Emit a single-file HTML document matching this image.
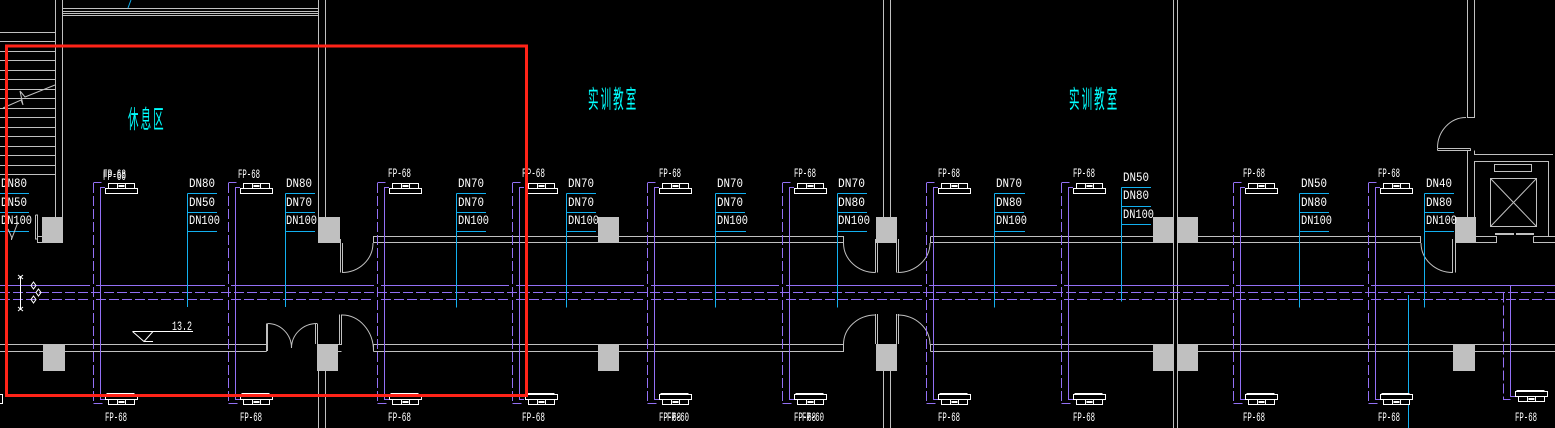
<!DOCTYPE html>
<html><head><meta charset="utf-8"><style>
html,body{margin:0;padding:0;background:#000;width:1555px;height:428px;overflow:hidden}
svg{display:block}
.w{stroke:#c0c0c0;stroke-width:1;fill:none}
.p{stroke:#9370f5;stroke-width:1;fill:none}
.d{stroke:#9370f5;stroke-width:1;fill:none;stroke-dasharray:10 3}
.h{stroke:#9370f5;stroke-width:1;fill:none;stroke-dasharray:10 3}
.c{stroke:#12b0f0;stroke-width:1;fill:none}
.u{stroke:#fff;stroke-width:1;fill:#000}
.col{fill:#c0c0c0}
text{font-family:"Liberation Mono","Noto Sans CJK SC",monospace;fill:#fff;font-size:13px}
.cn{font-family:"Liberation Sans","Noto Sans CJK SC",sans-serif;fill:#00ffff;font-size:25px;letter-spacing:5px}
</style></head><body>
<svg width="1555" height="428" viewBox="0 0 1555 428" xmlns="http://www.w3.org/2000/svg">
<defs>
<g id="ut"><rect class="u" x="-16" y="188.5" width="32" height="5"/><rect class="u" x="-13" y="183.5" width="26" height="5"/><path d="M-4 184v4M4 184v4" stroke="#fff"/><rect x="-3" y="185" width="6" height="2" fill="#fff"/></g>
<g id="ub"><path d="M-15 393.5H13" stroke="#fff"/><rect class="u" x="-16" y="394.5" width="32" height="5"/><rect class="u" x="-13" y="399.5" width="26" height="5"/><path d="M-4 400v4M4 400v4" stroke="#fff"/><rect x="-3" y="401" width="6" height="2" fill="#fff"/></g>
<g id="pp"><path class="d" d="M0 182.5H8"/><path class="d" d="M0 183V403.5"/><path class="d" d="M0 403.5H9"/><path class="p" d="M11.5 187.5H7V399.5H11.5"/></g>
</defs>
<rect width="1555" height="428" fill="#000"/>

<!-- stairs -->
<g class="w" shape-rendering="crispEdges">
<path d="M0 32.5H55M0 41.5H55M0 51.5H55M0 60.5H55M0 70.5H55M0 79.5H55M0 89.5H55M0 98.5H55M0 108.5H55M0 117.5H55M0 127.5H55M0 136.5H55M0 146.5H55M0 155.5H55M0 165.5H55M0 174.5H55"/>
<path d="M55.5 0V217M62.5 0V217M318.5 0V217M325.5 0V217M62 8.5H318M62 11.5H318M62 13.5H318M62 15.5H318"/>
<path d="M318.5 371V428M325.5 371V428M883.5 0V217M890.5 0V217M883.5 371V428M890.5 371V428M1173.5 0V428M1177.5 0V428"/>
<path d="M1467.5 0V117.5H1474.5V0M1437.5 148.5H1470.5M1437.5 150.5H1470.5V148.5M1437.5 148.5V150.5M1467.5 151V217M1474.5 150.5V154.5H1553"/>
<path d="M1474.5 217V161.5H1548.5V236.5M1490.5 178.5H1536.5V226.5H1490.5ZM1494.5 164.5H1531.5V171.5H1494.5Z"/>
<path d="M1476 236.5H1496.5V242.5H1476M1533.5 236.5H1555M1533.5 236.5V242.5H1555M1495 233.5H1514M1516 233.5H1534M1495 234.5H1514M1516 234.5H1534"/>
<!-- upper wall -->
<path d="M35.5 215H37.5V242.5H42M35.5 215V239H37M37.5 236.5H42M373 236.5H598M373 242.5H598M373.5 236.5V242.5M619 236.5H843.5V242.5H619M930.5 236.5H1153M930.5 242.5H1153M930.5 236.5V243M1198 236.5H1420.5V242.5H1198"/>
<!-- lower wall -->
<path d="M0 344.5H43M0 351.5H43M65 344.5H266.5M65 351.5H266.5M266.5 323.5V351.5M267.5 323.5V351M315.5 323.5V344M317.5 323.5V344M338 344.5H341.5V314.5M338 351.5H341.5M339.5 314.5V344M373.5 344.5V351.5M373.5 344.5H598M373.5 351.5H598M619 344.5H843.5V351.5H619M875.5 314V344M877.5 314V344M896.5 314V344M898.5 314V344M930.5 344.5V351.5M930.5 344.5H1153M930.5 351.5H1153M1198 344.5H1453M1198 351.5H1453M1475 344.5H1555M1475 351.5H1555"/>
<!-- upper jambs -->
<path d="M340.5 239V272.5M342.5 243V272.5M875.5 239V272.5M877.5 239V272.5M896.5 239V272.5M898.5 239V272.5M1452.5 239V272.5M1455.5 239V272.5"/>
</g>
<g class="w">
<path d="M1490.5 178.5L1536.5 226.5M1536.5 178.5L1490.5 226.5"/>
<path d="M3 108L21 100L23 105L20 91L25 97L55 85"/>
<path d="M342 272.5A31 29.5 0 0 0 373 243"/>
<path d="M342 315A31.5 36 0 0 1 373.5 351"/>
<path d="M267.5 323.5A24 24.5 0 0 1 291.5 348A25.5 24.5 0 0 1 317 323.5"/>
<path d="M843.5 243A32 29.5 0 0 0 875.5 272.5"/>
<path d="M897.5 272.5A32.5 29.5 0 0 0 930 243"/>
<path d="M843.5 344.5A32 29.5 0 0 1 875.5 315"/>
<path d="M897.5 315A32.5 29.5 0 0 1 930 344.5"/>
<path d="M1421 243A32 29.5 0 0 0 1453 272.5"/>
<path d="M1466 117.5A28.5 30.5 0 0 0 1437.5 148"/>
</g>
<!-- columns -->
<g class="col">
<rect x="42" y="217" width="21" height="26"/><rect x="43" y="344" width="22" height="27"/>
<rect x="318" y="217" width="22" height="26"/><rect x="317" y="344" width="21" height="27"/>
<rect x="598" y="217" width="21" height="26"/><rect x="598" y="344" width="21" height="27"/>
<rect x="876" y="217" width="21" height="26"/><rect x="876" y="344" width="21" height="27"/>
<rect x="1153" y="217" width="21" height="26"/><rect x="1177" y="217" width="21" height="26"/>
<rect x="1153" y="344" width="21" height="27"/><rect x="1177" y="344" width="21" height="27"/>
<rect x="1455" y="217" width="21" height="26"/><rect x="1453" y="344" width="22" height="27"/>
</g>

<!-- purple mains -->
<g shape-rendering="crispEdges">
<path class="p" d="M0 285.5H90M96 285.5H225M231 285.5H374M381 285.5H509M516 285.5H644M651 285.5H779M786 285.5H922M929 285.5H1057M1064 285.5H1229M1236 285.5H1364M1371 285.5H1555"/>
<path class="h" d="M0 292.5H1555"/>
<path class="h" d="M0 299.5H90M96 299.5H225M231 299.5H374M381 299.5H509M516 299.5H644M651 299.5H779M786 299.5H922M929 299.5H1057M1064 299.5H1229M1236 299.5H1364M1371 299.5H1503M1506 299.5H1555"/>
<use href="#pp" x="93.5"/><use href="#pp" x="228.5"/><use href="#pp" x="377.5"/><use href="#pp" x="512.5"/><use href="#pp" x="647.5"/><use href="#pp" x="782.5"/><use href="#pp" x="926.5"/><use href="#pp" x="1061.5"/><use href="#pp" x="1233.5"/><use href="#pp" x="1368.5"/>
<path class="d" d="M1503.5 292.5V399.5H1513"/>
<path class="p" d="M1510.5 285.5V396.5H1515"/>
</g>

<!-- cyan leaders -->
<g class="c" shape-rendering="crispEdges">
<path d="M0 193.5H29M0 212.5H29M0 231.5H29"/>
<path d="M187.5 193.5V307M187.5 193.5H217M187.5 212.5H217M187.5 231.5H217"/>
<path d="M285.5 193.5V307M285.5 193.5H315M285.5 212.5H315M285.5 231.5H315"/>
<path d="M456.5 193.5V307.5M456.5 193.5H486M456.5 212.5H486M456.5 231.5H486"/>
<path d="M566.5 193.5V307.5M566.5 193.5H596M566.5 212.5H596M566.5 231.5H596"/>
<path d="M715.5 193.5V307.5M715.5 193.5H746M715.5 212.5H745M715.5 231.5H746"/>
<path d="M837.5 193.5V307.5M837.5 193.5H867M837.5 212.5H867M837.5 231.5H867"/>
<path d="M994.5 193.5V307.5M994.5 193.5H1025M994.5 212.5H1024M994.5 231.5H1025"/>
<path d="M1121.5 187.5V301.5M1121.5 187.5H1151M1121.5 206.5H1151M1121.5 224.5H1151"/>
<path d="M1299.5 193.5V307.5M1299.5 193.5H1329M1299.5 212.5H1329M1299.5 231.5H1329"/>
<path d="M1424.5 193.5V307.5M1424.5 193.5H1454M1424.5 212.5H1454M1424.5 231.5H1454"/>
<path d="M1408.5 295V428"/>
</g>
<path class="c" d="M128 8L131 0"/>

<!-- fan coil units -->
<g shape-rendering="crispEdges">
<use href="#ut" x="121.5"/><use href="#ut" x="256.5"/><use href="#ut" x="405.5"/><use href="#ut" x="541.5"/><use href="#ut" x="675.5"/><use href="#ut" x="810.5"/><use href="#ut" x="954.5"/><use href="#ut" x="1089.5"/><use href="#ut" x="1261.5"/><use href="#ut" x="1396.5"/>
<use href="#ub" x="121.5"/><use href="#ub" x="256.5"/><use href="#ub" x="405.5"/><use href="#ub" x="541.5"/><use href="#ub" x="675.5"/><use href="#ub" x="810.5"/><use href="#ub" x="954.5"/><use href="#ub" x="1089.5"/><use href="#ub" x="1261.5"/><use href="#ub" x="1396.5"/>
<use href="#ub" x="1531.5" y="-3"/>
<path d="M0 394.5H2.5V403.5H0" stroke="#fff" fill="none"/>
</g>

<!-- FP labels top -->
<g>
<text x="103" y="178" textLength="23" lengthAdjust="spacingAndGlyphs">FP-68</text>
<text x="103" y="180" textLength="23" lengthAdjust="spacingAndGlyphs">FP-60</text>
<text x="238" y="178" textLength="22" lengthAdjust="spacingAndGlyphs">FP-68</text>
<text x="388" y="177" textLength="23" lengthAdjust="spacingAndGlyphs">FP-68</text>
<text x="522" y="177" textLength="23" lengthAdjust="spacingAndGlyphs">FP-68</text>
<text x="659" y="177" textLength="22" lengthAdjust="spacingAndGlyphs">FP-68</text>
<text x="794" y="177" textLength="22" lengthAdjust="spacingAndGlyphs">FP-68</text>
<text x="938" y="177" textLength="22" lengthAdjust="spacingAndGlyphs">FP-68</text>
<text x="1073" y="177" textLength="22" lengthAdjust="spacingAndGlyphs">FP-68</text>
<text x="1243" y="177" textLength="22" lengthAdjust="spacingAndGlyphs">FP-68</text>
<text x="1378" y="177" textLength="22" lengthAdjust="spacingAndGlyphs">FP-68</text>
<!-- bottom -->
<text x="105" y="421" textLength="22" lengthAdjust="spacingAndGlyphs">FP-68</text>
<text x="240" y="421" textLength="22" lengthAdjust="spacingAndGlyphs">FP-68</text>
<text x="388" y="421" textLength="23" lengthAdjust="spacingAndGlyphs">FP-68</text>
<text x="522" y="421" textLength="23" lengthAdjust="spacingAndGlyphs">FP-68</text>
<text x="659" y="421" textLength="22" lengthAdjust="spacingAndGlyphs">FP-68</text>
<text x="667" y="421" textLength="22" lengthAdjust="spacingAndGlyphs">FP-60</text>
<text x="794" y="421" textLength="22" lengthAdjust="spacingAndGlyphs">FP-68</text>
<text x="802" y="421" textLength="22" lengthAdjust="spacingAndGlyphs">FP-60</text>
<text x="938" y="421" textLength="22" lengthAdjust="spacingAndGlyphs">FP-68</text>
<text x="1073" y="421" textLength="22" lengthAdjust="spacingAndGlyphs">FP-68</text>
<text x="1243" y="421" textLength="22" lengthAdjust="spacingAndGlyphs">FP-68</text>
<text x="1378" y="421" textLength="22" lengthAdjust="spacingAndGlyphs">FP-68</text>
<text x="1515" y="421" textLength="22" lengthAdjust="spacingAndGlyphs">FP-68</text>
</g>

<!-- DN labels -->
<g>
<text x="1" y="187" textLength="26" lengthAdjust="spacingAndGlyphs">DN80</text><text x="1" y="206" textLength="26" lengthAdjust="spacingAndGlyphs">DN50</text><text x="1" y="224" textLength="31" lengthAdjust="spacingAndGlyphs">DN100</text>
<text x="189" y="187" textLength="26" lengthAdjust="spacingAndGlyphs">DN80</text><text x="189" y="206" textLength="26" lengthAdjust="spacingAndGlyphs">DN50</text><text x="189" y="224" textLength="31" lengthAdjust="spacingAndGlyphs">DN100</text>
<text x="286" y="187" textLength="26" lengthAdjust="spacingAndGlyphs">DN80</text><text x="286" y="206" textLength="26" lengthAdjust="spacingAndGlyphs">DN70</text><text x="286" y="224" textLength="31" lengthAdjust="spacingAndGlyphs">DN100</text>
<text x="458" y="187" textLength="26" lengthAdjust="spacingAndGlyphs">DN70</text><text x="458" y="206" textLength="26" lengthAdjust="spacingAndGlyphs">DN70</text><text x="458" y="224" textLength="31" lengthAdjust="spacingAndGlyphs">DN100</text>
<text x="568" y="187" textLength="26" lengthAdjust="spacingAndGlyphs">DN70</text><text x="568" y="206" textLength="26" lengthAdjust="spacingAndGlyphs">DN70</text><text x="568" y="224" textLength="31" lengthAdjust="spacingAndGlyphs">DN100</text>
<text x="717" y="187" textLength="26" lengthAdjust="spacingAndGlyphs">DN70</text><text x="717" y="206" textLength="26" lengthAdjust="spacingAndGlyphs">DN70</text><text x="717" y="224" textLength="31" lengthAdjust="spacingAndGlyphs">DN100</text>
<text x="838" y="187" textLength="27" lengthAdjust="spacingAndGlyphs">DN70</text><text x="838" y="206" textLength="27" lengthAdjust="spacingAndGlyphs">DN80</text><text x="838" y="224" textLength="32" lengthAdjust="spacingAndGlyphs">DN100</text>
<text x="996" y="187" textLength="26" lengthAdjust="spacingAndGlyphs">DN70</text><text x="996" y="206" textLength="26" lengthAdjust="spacingAndGlyphs">DN80</text><text x="996" y="224" textLength="31" lengthAdjust="spacingAndGlyphs">DN100</text>
<text x="1123" y="181" textLength="26" lengthAdjust="spacingAndGlyphs">DN50</text><text x="1123" y="199" textLength="26" lengthAdjust="spacingAndGlyphs">DN80</text><text x="1123" y="218" textLength="31" lengthAdjust="spacingAndGlyphs">DN100</text>
<text x="1301" y="187" textLength="26" lengthAdjust="spacingAndGlyphs">DN50</text><text x="1301" y="206" textLength="26" lengthAdjust="spacingAndGlyphs">DN80</text><text x="1301" y="224" textLength="31" lengthAdjust="spacingAndGlyphs">DN100</text>
<text x="1426" y="187" textLength="26" lengthAdjust="spacingAndGlyphs">DN40</text><text x="1426" y="206" textLength="26" lengthAdjust="spacingAndGlyphs">DN80</text><text x="1426" y="224" textLength="31" lengthAdjust="spacingAndGlyphs">DN100</text>
</g>

<!-- room names -->
<text class="cn" transform="translate(128,128) scale(.42,1)">休息区</text>
<text class="cn" transform="translate(588,108) scale(.42,1)">实训教室</text>
<text class="cn" transform="translate(1069,108) scale(.42,1)">实训教室</text>

<!-- misc symbols -->
<g stroke="#fff" fill="none">
<path d="M20.5 276V310M18 275L23 279M23 275L18 279M18 307L23 311M23 307L18 311"/>
<path d="M33.5 282L36 285.5L33.5 289L31 285.5ZM38.5 289L41 292.5L38.5 296L36 292.5ZM33.5 296L36 299.5L33.5 303L31 299.5Z"/>
<path d="M132.5 331.5H193M132.5 331.5L144 341.5L153 331.5M144 341.5H153"/>
</g>
<path class="w" d="M18 222L12 238L8 229M11.5 238V240"/>
<text x="172" y="330" textLength="20" lengthAdjust="spacingAndGlyphs">13.2</text>

<!-- red frame -->
<rect x="6.5" y="46" width="520" height="349.5" fill="none" stroke="#ff2318" stroke-width="3"/>
</svg>
</body></html>
